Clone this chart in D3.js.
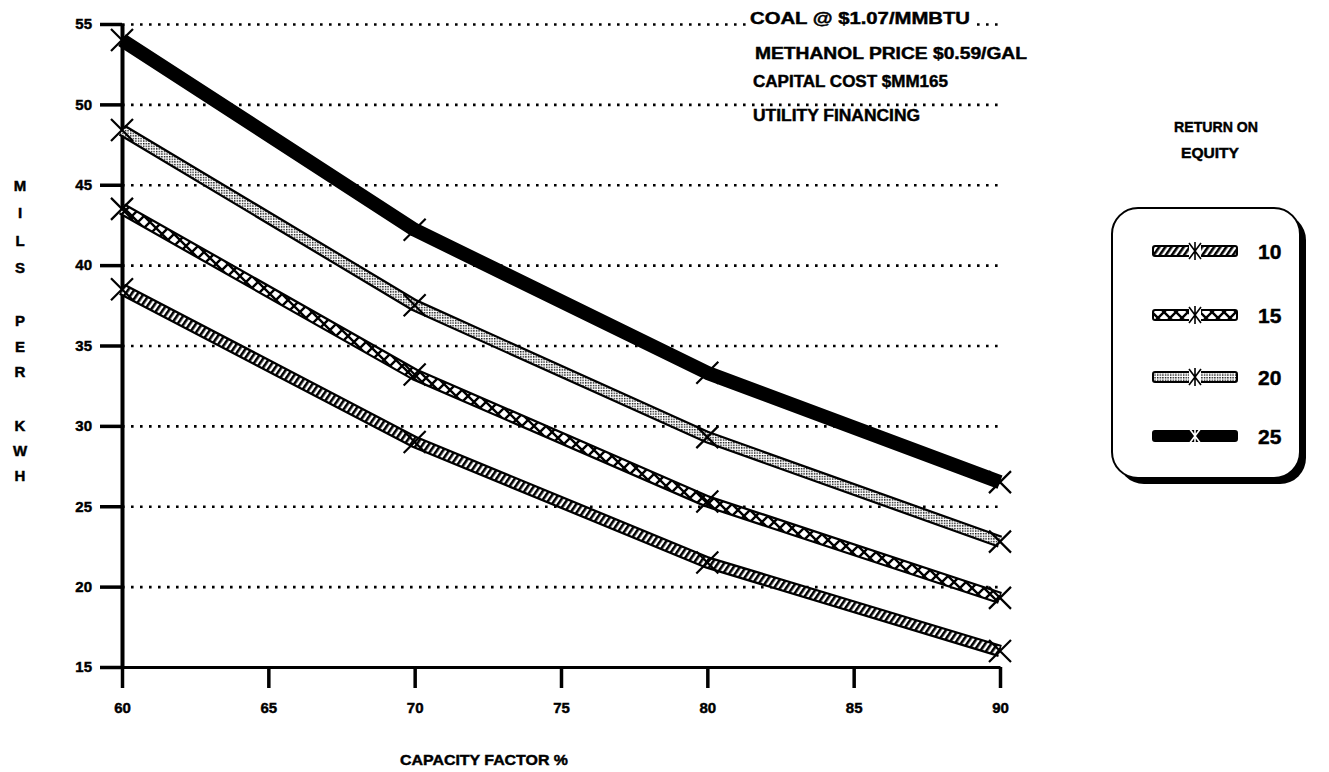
<!DOCTYPE html>
<html>
<head>
<meta charset="utf-8">
<script src="https://cdn.jsdelivr.net/npm/d3@7"></script>
<style>
  html, body { margin: 0; padding: 0; background: #fff; }
  svg { display: block; font-family: "Liberation Sans", Arial, sans-serif; font-weight: bold; }
  text { stroke: #000; stroke-width: 0.45px; fill: #000; }
</style>
</head>
<body>
<svg id="chart" width="1329" height="772"></svg>
<script>
// ---- data ----
const capacityFactor = [60, 70, 80, 90];
const roe10 = [38.5, 29.0, 21.5, 16.0];
const roe15 = [43.5, 33.2, 25.3, 19.3];
const roe20 = [48.4, 37.5, 29.3, 22.8];
const roe25 = [54.0, 42.2, 33.3, 26.5];
const seriesNames = ["10", "15", "20", "25"];
const xTicks = [60, 65, 70, 75, 80, 85, 90];
const yTicks = [15, 20, 25, 30, 35, 40, 45, 50, 55];
const notes = ["COAL @ $1.07/MMBTU", "METHANOL PRICE $0.59/GAL", "CAPITAL COST $MM165", "UTILITY FINANCING"];
const yTitle = ["M", "I", "L", "S", "", "P", "E", "R", "", "K", "W", "H"];
const xTitle = "CAPACITY FACTOR %";
const legendTitle = ["RETURN ON", "EQUITY"];

const series = [
  { name: seriesNames[0], values: roe10, pat: "hatch" },
  { name: seriesNames[1], values: roe15, pat: "cross" },
  { name: seriesNames[2], values: roe20, pat: "stipple" },
  { name: seriesNames[3], values: roe25, pat: null }
];

const svg = d3.select("#chart");
const x = d3.scaleLinear().domain([60, 90]).range([122, 1000]);
const y = d3.scaleLinear().domain([15, 55]).range([667, 24]);

// ---- patterns ----
const defs = svg.append("defs");
const ph = defs.append("pattern").attr("id", "hatch").attr("patternUnits", "userSpaceOnUse")
  .attr("width", 5).attr("height", 5).attr("patternTransform", "rotate(35)");
ph.append("rect").attr("width", 5).attr("height", 5).attr("fill", "#fff");
ph.append("rect").attr("width", 2.6).attr("height", 5).attr("fill", "#000");

const pc = defs.append("pattern").attr("id", "cross").attr("patternUnits", "userSpaceOnUse")
  .attr("width", 12).attr("height", 12);
pc.append("rect").attr("width", 12).attr("height", 12).attr("fill", "#fff");
pc.append("path").attr("d", "M0,0L12,12M12,0L0,12").attr("stroke", "#000").attr("stroke-width", 2.4);

const ps = defs.append("pattern").attr("id", "stipple").attr("patternUnits", "userSpaceOnUse")
  .attr("width", 2.6).attr("height", 2.6);
ps.append("rect").attr("width", 2.6).attr("height", 2.6).attr("fill", "#fff");
ps.append("rect").attr("width", 1.4).attr("height", 1.4).attr("fill", "#111");

// ---- grid ----
svg.append("g")
  .attr("transform", `translate(${x(60)},0)`)
  .call(d3.axisLeft(y).tickValues(yTicks.filter(v => v > 15)).tickSize(-(x(90) - x(60))).tickFormat(""))
  .call(g => g.select(".domain").remove())
  .call(g => g.selectAll("line").attr("stroke", "#000").attr("stroke-width", 2.6)
    .attr("stroke-dasharray", "2.6 6.4"));

// ---- notes (top right) ----
const noteX = [750, 755, 753, 753];
const noteY = [24, 59, 87, 121];
const noteW = [220, 272, 195, 167];
const notesG = svg.append("g");
notes.forEach((t, i) => {
  if (i === 0) {
    notesG.append("rect").attr("x", noteX[i] - 4).attr("y", noteY[i] - 15)
      .attr("width", noteW[i] + 8).attr("height", 19).attr("fill", "#fff");
  }
  notesG.append("text").attr("x", noteX[i]).attr("y", noteY[i])
    .attr("font-size", 16).attr("textLength", noteW[i]).attr("lengthAdjust", "spacingAndGlyphs")
    .text(t);
});

// ---- axes ----
svg.append("g")
  .attr("transform", `translate(${x(60)},0)`)
  .call(d3.axisLeft(y).tickValues(yTicks).tickSize(22).tickPadding(8).tickSizeOuter(0))
  .call(g => g.select(".domain").attr("stroke", "#000").attr("stroke-width", 4))
  .call(g => g.selectAll(".tick line").attr("stroke", "#000").attr("stroke-width", 3.5))
  .call(g => g.selectAll("text").attr("font-size", 15).attr("font-family", "Liberation Sans, Arial").attr("font-weight", "bold"));

svg.append("g")
  .attr("transform", `translate(0,${y(15)})`)
  .call(d3.axisBottom(x).tickValues(xTicks).tickSize(21).tickPadding(14).tickSizeOuter(0))
  .call(g => g.select(".domain").attr("stroke", "#000").attr("stroke-width", 3))
  .call(g => g.selectAll(".tick line").attr("stroke", "#000").attr("stroke-width", 3.5))
  .call(g => g.selectAll("text").attr("font-size", 15).attr("font-family", "Liberation Sans, Arial").attr("font-weight", "bold"));

// ---- axis titles ----
const yTitleY = [186, 213, 241, 268, null, 321, 347, 372, null, 426, 451, 476];
yTitle.forEach((c, i) => {
  if (!c) return;
  svg.append("text").attr("x", 20).attr("y", yTitleY[i] + 5).attr("text-anchor", "middle")
    .attr("font-size", 15).text(c);
});
svg.append("text").attr("x", 484).attr("y", 765).attr("text-anchor", "middle")
  .attr("font-size", 15).attr("textLength", 168).attr("lengthAdjust", "spacingAndGlyphs").text(xTitle);

// ---- lines ----
const line = d3.line().x((d, i) => x(capacityFactor[i])).y(d => y(d));
const linesG = svg.append("g");
series.forEach(s => {
  if (s.pat) {
    linesG.append("path").datum(s.values).attr("d", line).attr("fill", "none")
      .attr("stroke", "#000").attr("stroke-width", 12.5).attr("stroke-linejoin", "round");
    linesG.append("path").datum(s.values).attr("d", line).attr("fill", "none")
      .attr("stroke", `url(#${s.pat})`).attr("stroke-width", 8).attr("stroke-linejoin", "round");
  } else {
    linesG.append("path").datum(s.values).attr("d", line).attr("fill", "none")
      .attr("stroke", "#000").attr("stroke-width", 14).attr("stroke-linejoin", "round");
  }
});
// markers
series.forEach(s => {
  linesG.selectAll(null).data(s.values).enter().append("path")
    .attr("transform", (d, i) => `translate(${x(capacityFactor[i])},${y(d)})`)
    .attr("d", "M-11,-11L11,11M11,-11L-11,11")
    .attr("stroke", "#000").attr("stroke-width", 2.2).attr("fill", "none");
});

// ---- legend ----
const lg = svg.append("g");
lg.append("text").attr("x", 1216).attr("y", 132).attr("text-anchor", "middle").attr("font-size", 15)
  .attr("textLength", 84).attr("lengthAdjust", "spacingAndGlyphs").text(legendTitle[0]);
lg.append("text").attr("x", 1210).attr("y", 158).attr("text-anchor", "middle").attr("font-size", 15)
  .attr("textLength", 58).attr("lengthAdjust", "spacingAndGlyphs").text(legendTitle[1]);
lg.append("rect").attr("x", 1118).attr("y", 214).attr("width", 188).attr("height", 270)
  .attr("rx", 26).attr("fill", "#000");
lg.append("rect").attr("x", 1112).attr("y", 208).attr("width", 188).attr("height", 270)
  .attr("rx", 26).attr("fill", "#fff").attr("stroke", "#000").attr("stroke-width", 2);
const legY = [251, 315, 377, 436];
series.forEach((s, i) => {
  const cy = legY[i];
  lg.append("rect").attr("x", 1153).attr("y", cy - 5).attr("width", 84).attr("height", 10)
    .attr("fill", s.pat ? `url(#${s.pat})` : "#000").attr("stroke", "#000").attr("stroke-width", 2)
    .attr("rx", 2);
  lg.append("rect").attr("x", 1189).attr("y", cy - 6).attr("width", 12).attr("height", 12).attr("fill", s.pat ? "#fff" : "#000");
  lg.append("path").attr("transform", `translate(1195,${cy})`)
    .attr("d", "M-6,-8L6,8M6,-8L-6,8M0,-9L0,9")
    .attr("stroke", s.pat ? "#000" : "#fff").attr("stroke-width", 1.6);
  lg.append("text").attr("x", 1258).attr("y", cy + 8).attr("font-size", 21).text(s.name);
});
</script>
</body>
</html>
